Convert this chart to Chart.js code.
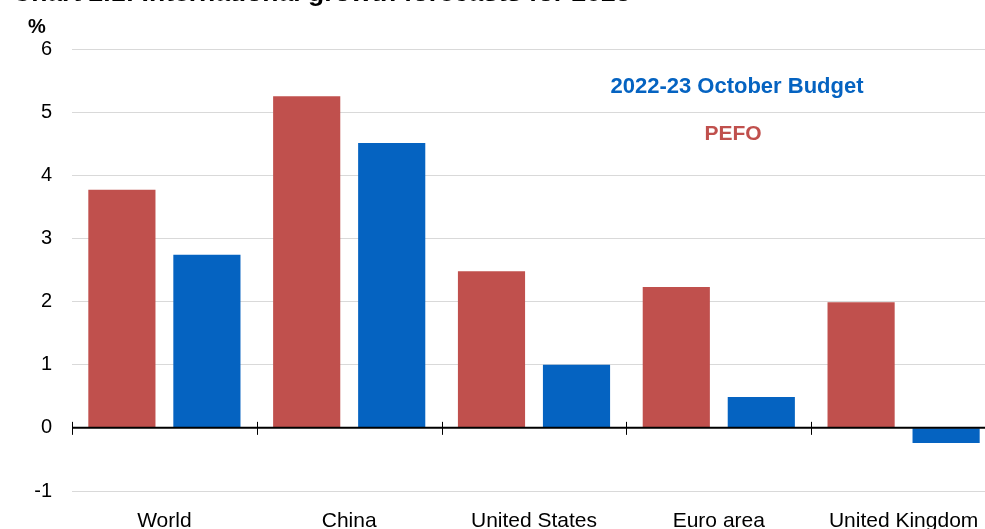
<!DOCTYPE html>
<html>
<head>
<meta charset="utf-8">
<script src="https://cdn.jsdelivr.net/npm/chart.js@4.4.1/dist/chart.umd.min.js"></script>
<style>
    body { margin: 0; overflow: hidden; background: #fff; font-family: "Liberation Sans", Arial, sans-serif; }
    #wrap { position: absolute; left: 0; top: 0; width: 1000px; height: 545px; }
    #title { position: absolute; left: 12px; top: -21px; font-weight: bold; font-size: 26.5px; line-height: 26px; white-space: nowrap; color: #000; }
    #unit { position: absolute; left: 28px; top: 15px; font-weight: bold; font-size: 20px; line-height: 22px; color: #000; }
</style>
</head>
<body>
<div id="wrap"><canvas id="growthChart" width="1000" height="545"></canvas></div>
<div id="title">Chart 2.1: International growth forecasts for 2023</div>
<div id="unit">%</div>
<script>
// categories and series (per cent)
const categories = ['World', 'China', 'United States', 'Euro area', 'United Kingdom'];
const pefo = [3.77, 5.25, 2.48, 2.23, 1.99];
const octoberBudget = [2.74, 4.51, 1.0, 0.49, -0.24];
const yTicks = [-1, 0, 1, 2, 3, 4, 5, 6];

const RED = '#c0504d';
const BLUE = '#0563c1';
const FONT = '"Liberation Sans", Arial, sans-serif';

// black zero line with tick marks at category boundaries
const zeroAxis = {
    id: 'zeroAxis',
    afterDatasetsDraw(chart) {
        const ctx = chart.ctx;
        const x = chart.scales.x;
        const y0 = chart.scales.y.getPixelForValue(0);
        ctx.save();
        ctx.strokeStyle = '#000';
        ctx.lineWidth = 2;
        ctx.beginPath();
        ctx.moveTo(chart.chartArea.left, y0);
        ctx.lineTo(chart.chartArea.right, y0);
        ctx.stroke();
        ctx.lineWidth = 1;
        for (let i = 0; i <= categories.length; i++) {
            const px = Math.round(x.getPixelForValue(i - 0.5)) + 0.5;
            ctx.beginPath();
            ctx.moveTo(px, y0 - 6);
            ctx.lineTo(px, y0 + 7);
            ctx.stroke();
        }
        ctx.restore();
    }
};

// in-chart legend labels
const legendText = {
    id: 'legendText',
    afterDraw(chart) {
        const ctx = chart.ctx;
        ctx.save();
        ctx.textAlign = 'center';
        ctx.textBaseline = 'middle';
        ctx.font = 'bold 22px ' + FONT;
        ctx.fillStyle = BLUE;
        ctx.fillText('2022-23 October Budget', 737, 87);
        ctx.font = 'bold 21px ' + FONT;
        ctx.fillStyle = RED;
        ctx.fillText('PEFO', 733, 134);
        ctx.restore();
    }
};

new Chart(document.getElementById('growthChart'), {
    type: 'bar',
    data: {
        labels: categories,
        datasets: [{
            label: 'PEFO',
            data: pefo,
            backgroundColor: RED
        }, {
            label: '2022-23 October Budget',
            data: octoberBudget,
            backgroundColor: BLUE
        }]
    },
    options: {
        responsive: false,
        animation: false,
        categoryPercentage: 0.92,
        barPercentage: 0.79,
        layout: { padding: { top: 49, right: 4, left: 0, bottom: 0 } },
        plugins: {
            legend: { display: false },
            tooltip: { enabled: false }
        },
        scales: {
            x: {
                grid: { display: false },
                border: { display: false },
                ticks: { color: '#000', font: { family: FONT, size: 21 }, padding: 10, maxRotation: 0, autoSkip: false },
                afterFit(scale) { scale.height = 54; }
            },
            y: {
                min: -1,
                max: 6,
                afterBuildTicks(scale) { scale.ticks = yTicks.map(v => ({ value: v })); },
                grid: {
                    drawTicks: false,
                    color: ctx => ctx.tick && ctx.tick.value === 0 ? 'rgba(0,0,0,0)' : '#d9d9d9',
                    lineWidth: 1
                },
                border: { display: false },
                ticks: { color: '#000', font: { family: FONT, size: 20 }, padding: 20 },
                afterFit(scale) { scale.width = 72; }
            }
        }
    },
    plugins: [zeroAxis, legendText]
});
</script>
</body>
</html>
